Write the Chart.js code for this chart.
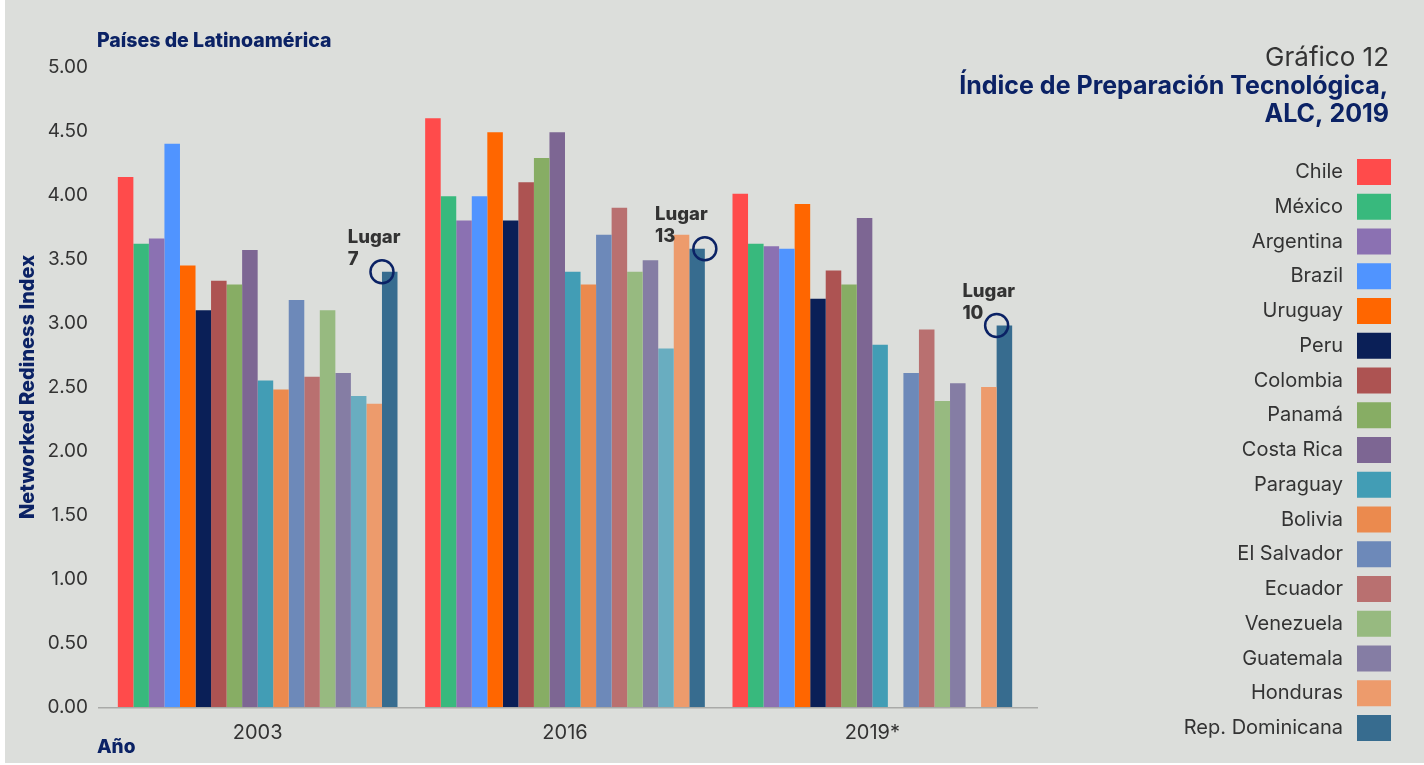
<!DOCTYPE html>
<html>
<head>
<meta charset="utf-8">
<title>Gráfico 12</title>
<script src="https://cdn.jsdelivr.net/npm/chart.js@4.4.1/dist/chart.umd.min.js"></script>
<style>
html, body { margin: 0; padding: 0; background: #ffffff; }
#fondo { position: absolute; left: 5px; top: 0; width: 1419px; height: 763px; background: #dcdedb; }
#grafico { position: absolute; left: 0; top: 0; }
</style>
</head>
<body>
<div id="fondo"></div>
<canvas id="grafico" width="1424" height="765"></canvas>
<script>
// categorias (eje x)
var years = ["2003", "2016", "2019*"];
// series, en el orden de la leyenda ("" = serie sin nombre en la leyenda)
var countries = ["Chile", "México", "Argentina", "Brazil", "Uruguay", "Peru", "Colombia", "Panamá",
  "Costa Rica", "Paraguay", "Bolivia", "El Salvador", "Ecuador", "Venezuela", "Guatemala", "",
  "Honduras", "Rep. Dominicana"];
// valores por año, uno por pais
var v2003 = [4.14, 3.62, 3.66, 4.40, 3.45, 3.10, 3.33, 3.30, 3.57, 2.55, 2.48, 3.18, 2.58, 3.10, 2.61, 2.43, 2.37, 3.40];
var v2016 = [4.60, 3.99, 3.80, 3.99, 4.49, 3.80, 4.10, 4.29, 4.49, 3.40, 3.30, 3.69, 3.90, 3.40, 3.49, 2.80, 3.69, 3.58];
var v2019 = [4.01, 3.62, 3.60, 3.58, 3.93, 3.19, 3.41, 3.30, 3.82, 2.83, null, 2.61, 2.95, 2.39, 2.53, null, 2.50, 2.98];
// puesto de Rep. Dominicana en cada año
var lugar = [7, 13, 10];
var yTicks = [0, 0.5, 1, 1.5, 2, 2.5, 3, 3.5, 4, 4.5, 5];

var colors = ['#ff4b4b', '#38b97d', '#8b71b2', '#5094ff', '#ff6600', '#0a1f57', '#ad5352', '#87ad64',
  '#7d6693', '#429db5', '#eb8a4e', '#6d89b9', '#b97070', '#97ba80', '#857da4', '#69adc0',
  '#ed9b6c', '#376c8f'];
var navy = '#0b2265';
var grey = '#333333';
var fam = 'Inter';

Chart.defaults.font.family = fam;

var datasets = [];
for (var i = 0; i < countries.length; i++) {
  datasets.push({
    label: countries[i],
    data: [v2003[i], v2016[i], v2019[i]],
    backgroundColor: colors[i],
    borderWidth: 0,
    categoryPercentage: 0.91,
    barPercentage: 1.0
  });
}

var axisLine = {
  id: 'axisLine',
  beforeDatasetsDraw: function(chart) {
    var c = chart.ctx, a = chart.chartArea;
    c.save();
    c.strokeStyle = '#a9aaa8';
    c.lineWidth = 1.5;
    c.beginPath();
    c.moveTo(a.left - 6, a.bottom + 0.75);
    c.lineTo(a.right + 12, a.bottom + 0.75);
    c.stroke();
    c.restore();
  }
};

var textos = {
  id: 'textos',
  afterDraw: function(chart) {
    var c = chart.ctx;
    c.save();
    // titulo
    c.textAlign = 'right';
    c.textBaseline = 'alphabetic';
    c.fillStyle = grey;
    c.font = '26px ' + fam;
    c.fillText('Gráfico 12', 1389, 66);
    c.fillStyle = navy;
    c.font = 'bold 25px ' + fam;
    c.fillText('Índice de Preparación Tecnológica,', 1388, 94);
    c.fillText('ALC, 2019', 1389, 122);
    // etiquetas de ejes
    c.textAlign = 'left';
    c.font = '800 19.5px ' + fam;
    c.fillText('Países de Latinoamérica', 97, 47);
    c.font = '800 19px ' + fam;
    c.fillText('Año', 97, 753);

    // leyenda
    var pitch = 34.75, top = 159, row = 0;
    c.font = '20px ' + fam;
    c.textAlign = 'right';
    c.textBaseline = 'middle';
    chart.data.datasets.forEach(function(ds) {
      if (ds.label === '') return;
      var y = top + row * pitch;
      c.fillStyle = ds.backgroundColor;
      c.fillRect(1357, y, 34, 26);
      c.fillStyle = grey;
      c.fillText(ds.label, 1343, y + 13);
      row++;
    });

    // "Lugar" de Rep. Dominicana
    var meta = chart.getDatasetMeta(countries.indexOf('Rep. Dominicana'));
    var side = [-1, 1, -1];
    meta.data.forEach(function(bar, k) {
      var half = bar.width / 2;
      var cx = bar.x + side[k] * half;
      c.strokeStyle = navy;
      c.lineWidth = 2.5;
      c.beginPath();
      c.arc(cx, bar.y, 11.5, 0, Math.PI * 2);
      c.stroke();
      c.fillStyle = grey;
      c.font = '800 18.5px ' + fam;
      c.textAlign = 'left';
      c.textBaseline = 'middle';
      c.fillText('Lugar', bar.x - 42, bar.y - 34);
      c.fillText(String(lugar[k]), bar.x - 42, bar.y - 12);
    });
    c.restore();
  }
};

var ctx = document.getElementById('grafico');
var grafico = new Chart(ctx, {
  type: 'bar',
  data: { labels: years, datasets: datasets },
  options: {
    responsive: false,
    animation: false,
    layout: { padding: { top: 67, right: 398, bottom: 0, left: 0 } },
    plugins: { legend: { display: false }, tooltip: { enabled: false } },
    scales: {
      x: {
        grid: { display: false, drawTicks: false },
        border: { display: false },
        ticks: { color: grey, font: { size: 20 }, padding: 14 },
        afterFit: function(s) { s.height = 58; }
      },
      y: {
        min: 0,
        max: 5,
        afterBuildTicks: function(s) { s.ticks = yTicks.map(function(v) { return { value: v }; }); },
        grid: { display: false, drawTicks: false },
        border: { display: false },
        ticks: {
          color: grey,
          font: { size: 19 },
          padding: 16,
          callback: function(v) { return v.toFixed(2); }
        },
        title: {
          display: true,
          text: 'Networked Rediness Index',
          color: navy,
          font: { size: 20, weight: '800' },
          padding: { top: 16, bottom: 0 }
        },
        afterFit: function(s) { s.width = 104; }
      }
    }
  },
  plugins: [axisLine, textos]
});
</script>
</body>
</html>
